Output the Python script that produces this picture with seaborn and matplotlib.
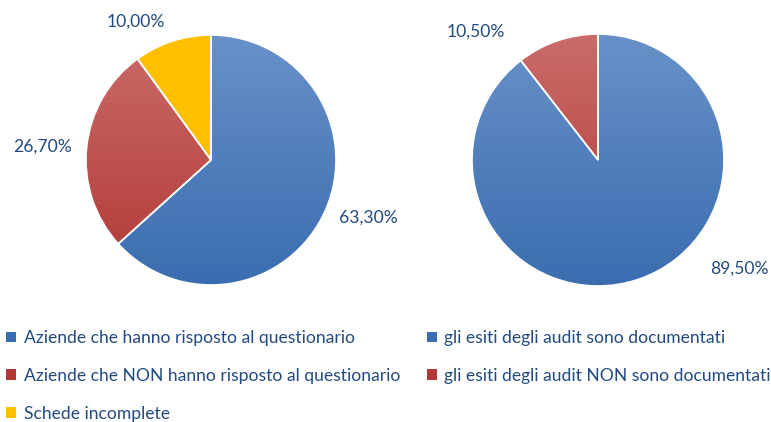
import numpy as np
import matplotlib
matplotlib.use("Agg")
import matplotlib.pyplot as plt
import seaborn as sns
from matplotlib.patches import Patch
from matplotlib.colors import LinearSegmentedColormap

sns.set_theme(style="white")
plt.rcParams['font.family'] = ['Lato', 'DejaVu Sans']

# ---- data ----
left_labels = ["Aziende che hanno risposto al questionario",
               "Aziende che NON hanno risposto al questionario",
               "Schede incomplete"]
left_values = [63.3, 26.7, 10.0]
right_labels = ["gli esiti degli audit sono documentati",
                "gli esiti degli audit NON sono documentati"]
right_values = [89.5, 10.5]

# ---- style ----
TEXT = "#234A80"
GRADS = {
    "blue": ("#6891C8", "#3A6DB0"),
    "red": ("#C96C6A", "#B23835"),
    "yellow": ("#FFC000", "#FFC000"),
}
left_colors = ["blue", "red", "yellow"]
right_colors = ["blue", "red"]
# label positions in units of radius (x, y, ha)
left_label_pos = [(1.02, -0.46, "left"), (-1.11, 0.11, "right"), (-0.37, 1.11, "right")]
right_label_pos = [(0.89, -0.86, "left"), (-0.74, 1.02, "right")]

W, H = 771, 422
fig = plt.figure(figsize=(W / 100, H / 100), dpi=100)
FS = 12.6


def fmt(v):
    return f"{v:.2f}%".replace(".", ",")


def draw_pie(cx, cy, r, values, cols, label_pos):
    ax = fig.add_axes([(cx - r) / W, (H - cy - r) / H, 2 * r / W, 2 * r / H])
    ax.set_xlim(-1, 1)
    ax.set_ylim(-1, 1)
    ax.set_aspect("equal")
    ax.axis("off")
    wedges, _ = ax.pie(values, startangle=90, counterclock=False, radius=1,
                       colors=[GRADS[c][0] for c in cols],
                       wedgeprops=dict(linewidth=0))
    grad = np.linspace(0, 1, 256).reshape(-1, 1)
    for w, c in zip(wedges, cols):
        cmap = LinearSegmentedColormap.from_list("g", [GRADS[c][0], GRADS[c][1]])
        im = ax.imshow(grad, cmap=cmap, extent=(-1, 1, -1, 1), origin="upper",
                       aspect="auto", zorder=2, interpolation="bilinear")
        im.set_clip_path(w)
    ax.pie(values, startangle=90, counterclock=False, radius=1,
           colors=["none"] * len(values),
           wedgeprops=dict(edgecolor="white", linewidth=1.2, zorder=3))
    ax.set_xlim(-1, 1)
    ax.set_ylim(-1, 1)
    for v, (x, y, ha) in zip(values, label_pos):
        ax.text(x, y, fmt(v), ha=ha, va="center", fontsize=FS, color=TEXT,
                clip_on=False)
    return wedges


draw_pie(211, 160, 125, left_values, left_colors, left_label_pos)
draw_pie(598, 160, 126, right_values, right_colors, right_label_pos)

left_handles = [Patch(facecolor=GRADS[c][1] if c != "yellow" else GRADS[c][0],
                      edgecolor="none") for c in left_colors]
right_handles = [Patch(facecolor=GRADS[c][1], edgecolor="none") for c in right_colors]

leg_kw = dict(frameon=False, fontsize=FS, labelcolor=TEXT, handlelength=0.55,
              handleheight=0.55, handletextpad=0.45, labelspacing=1.25,
              borderaxespad=0, borderpad=0, loc="upper left")
fig.legend(left_handles, left_labels, bbox_to_anchor=(6 / W, 1 - 330 / H), **leg_kw)
fig.legend(right_handles, right_labels, bbox_to_anchor=(427 / W, 1 - 330 / H), **leg_kw)

fig.savefig("out.png", dpi=100)
